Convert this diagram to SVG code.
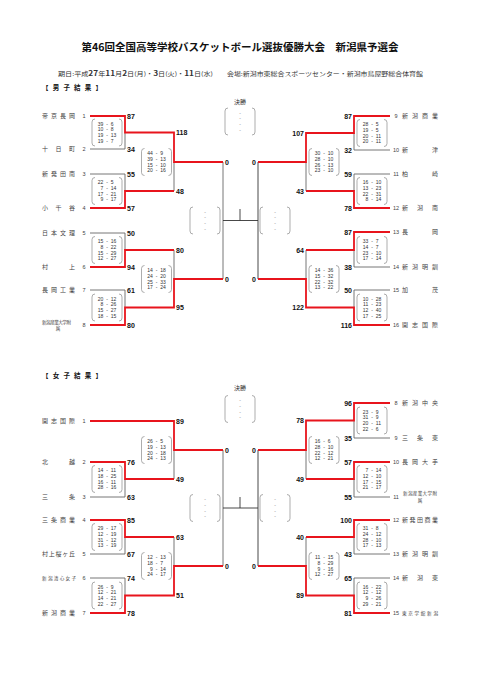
<svg xmlns="http://www.w3.org/2000/svg" xmlns:xlink="http://www.w3.org/1999/xlink" width="481" height="680" viewBox="0 0 481 680">
<style>
.j{font-family:"Noto Sans CJK JP","Liberation Sans",sans-serif;fill:#333}
.ttl{font-size:10.5px;font-weight:bold;fill:#111}
.sub{font-size:6px}
.b7{font-weight:bold;font-size:7px}
.hd{font-size:6.5px;font-weight:bold;fill:#111}
.nm{font-size:6px;fill:#444}
.nms{font-size:4.6px;fill:#444}
.no{font-family:"Liberation Sans",Arial,sans-serif;font-size:5.5px;fill:#444;text-anchor:middle}
.sc{font-family:"Liberation Sans",Arial,sans-serif;font-size:7px;font-weight:bold;fill:#111}
.r{text-anchor:end}
.m{text-anchor:middle}
.bx{font-family:"Liberation Sans",Arial,sans-serif;font-size:5px;fill:#333}
.bx .e{text-anchor:end}
.bk{fill:none;stroke:#8a8a8a;stroke-width:0.7}
.em{font-family:"Liberation Sans",Arial,sans-serif;font-size:5px;fill:#888;text-anchor:middle}
.l{fill:none;stroke:#666;stroke-width:0.9}
.k{fill:none;stroke:#333;stroke-width:0.9}
.w{fill:none;stroke:#e8141c;stroke-width:1.8}
</style>
<defs>
<path id="bk" class="bk" d="M3,0Q0,0 0,3V24Q0,27 3,27M27,0Q30,0 30,3V24Q30,27 27,27"/>
<g id="eb"><use xlink:href="#bk" href="#bk"/><text class="em" x="15" y="6.5">-</text><text class="em" x="15" y="12.3">-</text><text class="em" x="15" y="18.1">-</text><text class="em" x="15" y="23.9">-</text></g>
</defs>
<rect width="481" height="680" fill="#fff"/>

<g id="header">
<text class="j ttl" x="240" y="51" text-anchor="middle">第46回全国高等学校バスケットボール選抜優勝大会　新潟県予選会</text>
<text class="j sub" x="58" y="75.5" textLength="155" lengthAdjust="spacingAndGlyphs">期日:平成<tspan class="b7">27</tspan>年<tspan class="b7">11</tspan>月<tspan class="b7">2</tspan>日(月)・<tspan class="b7">3</tspan>日(火)・<tspan class="b7">11</tspan>日(水)</text>
<text class="j sub" x="227" y="75.5" textLength="196" lengthAdjust="spacingAndGlyphs">会場:新潟市東総合スポーツセンター・新潟市鳥屋野総合体育館</text>
<text class="j hd" x="42" y="89.5" textLength="60" lengthAdjust="spacing">【男子結果】</text>
<text class="j sub m" x="240" y="104">決勝</text>
<text class="j hd" x="42" y="377.5" textLength="60" lengthAdjust="spacing">【女子結果】</text>
<text class="j sub m" x="240" y="390">決勝</text>
</g>

<g id="connectors">
<path class="l" d="M90,149H125V132.5M90,174H125V191M174,191V162M90,233H125V250M90,290H125V307.5M174,250V279M223,162V279"/>
<path class="l" d="M390,150H354V133M390,174H354V191M306,191V162M390,267H354V250M390,290H354V307.5M306,250V279"/>
<path class="k" d="M223,220.5H258M240,220.5V209M258,162V279"/>
<path class="w" d="M90,116H125V132.5H174V162H223M90,208H125V191H174M90,267H125V250H174M90,325H125V307.5H174V279H223"/>
<path class="w" d="M390,116H354V133H306V162H258M390,208H354V191H306M390,232H354V250H306M390,325H354V307.5H306V279H258"/>
<path class="l" d="M90,497H125V479M174,479V450M90,554H125V537M174,537V566M90,578H125V595.5M223,450V566"/>
<path class="l" d="M390,438H354V420.5M390,497H354V479M306,479V450M390,554H354V537M390,578H354V595.5M306,537V566"/>
<path class="k" d="M223,508H258M240,508V497M258,450V566"/>
<path class="w" d="M90,421H174V450H223M90,462H125V479H174M90,520H125V537H174M90,613H125V595.5H174V566H223"/>
<path class="w" d="M390,403H354V420.5H306V450H258M390,462H354V479H306M390,520H354V537H306M390,613H354V595.5H306V566H258"/>
</g>

<!-- Male teams left -->
<g id="m-t1"><text class="j nm" x="42" y="118" textLength="33" lengthAdjust="spacing">帝京長岡</text><text class="no" x="84" y="118">1</text><text class="sc" x="127" y="118.5">87</text></g>
<g id="m-t2"><text class="j nm" x="42" y="151" textLength="33" lengthAdjust="spacing">十日町</text><text class="no" x="84" y="151">2</text><text class="sc" x="127" y="151.5">34</text></g>
<g id="m-t3"><text class="j nm" x="42" y="176" textLength="33" lengthAdjust="spacing">新発田南</text><text class="no" x="84" y="176">3</text><text class="sc" x="127" y="176.5">55</text></g>
<g id="m-t4"><text class="j nm" x="42" y="210" textLength="33" lengthAdjust="spacing">小千谷</text><text class="no" x="84" y="210">4</text><text class="sc" x="127" y="210.5">57</text></g>
<g id="m-t5"><text class="j nm" x="42" y="235" textLength="33" lengthAdjust="spacing">日本文理</text><text class="no" x="84" y="235">5</text><text class="sc" x="127" y="235.5">50</text></g>
<g id="m-t6"><text class="j nm" x="42" y="269" textLength="33" lengthAdjust="spacing">村上</text><text class="no" x="84" y="269">6</text><text class="sc" x="127" y="269.5">94</text></g>
<g id="m-t7"><text class="j nm" x="42" y="292" textLength="33" lengthAdjust="spacing">長岡工業</text><text class="no" x="84" y="292">7</text><text class="sc" x="127" y="292.5">61</text></g>
<g id="m-t8"><text class="j nms" x="42" y="323.5" textLength="29" lengthAdjust="spacing">新潟産業大学附</text><text class="j nms m" x="58" y="330">属</text><text class="no" x="84" y="327">8</text><text class="sc" x="127" y="327.5">80</text></g>
<!-- Male teams right -->
<g id="m-t9"><text class="no" x="396" y="118">9</text><text class="j nm" x="402" y="118" textLength="36" lengthAdjust="spacing">新潟商業</text><text class="sc r" x="352" y="118.5">87</text></g>
<g id="m-t10"><text class="no" x="396" y="152">10</text><text class="j nm" x="402" y="152" textLength="36" lengthAdjust="spacing">新津</text><text class="sc r" x="352" y="152.5">32</text></g>
<g id="m-t11"><text class="no" x="396" y="176">11</text><text class="j nm" x="402" y="176" textLength="36" lengthAdjust="spacing">柏崎</text><text class="sc r" x="352" y="176.5">59</text></g>
<g id="m-t12"><text class="no" x="396" y="210">12</text><text class="j nm" x="402" y="210" textLength="36" lengthAdjust="spacing">新潟南</text><text class="sc r" x="352" y="210.5">78</text></g>
<g id="m-t13"><text class="no" x="396" y="234">13</text><text class="j nm" x="402" y="234" textLength="36" lengthAdjust="spacing">長岡</text><text class="sc r" x="352" y="234.5">87</text></g>
<g id="m-t14"><text class="no" x="396" y="269">14</text><text class="j nm" x="402" y="269" textLength="36" lengthAdjust="spacing">新潟明訓</text><text class="sc r" x="352" y="269.5">38</text></g>
<g id="m-t15"><text class="no" x="396" y="292">15</text><text class="j nm" x="402" y="292" textLength="36" lengthAdjust="spacing">加茂</text><text class="sc r" x="352" y="292.5">50</text></g>
<g id="m-t16"><text class="no" x="396" y="327">16</text><text class="j nm" x="402" y="327" textLength="36" lengthAdjust="spacing">開志国際</text><text class="sc r" x="352" y="327.5">116</text></g>
<!-- Male round scores -->
<g id="m-r2"><text class="sc" x="176" y="135">118</text><text class="sc" x="176" y="193.5">48</text><text class="sc" x="176" y="252.5">80</text><text class="sc" x="176" y="310">95</text>
<text class="sc" x="225" y="164.5">0</text><text class="sc" x="225" y="281.5">0</text>
<text class="sc r" x="304" y="135.5">107</text><text class="sc r" x="304" y="193.5">43</text><text class="sc r" x="304" y="252.5">64</text><text class="sc r" x="304" y="310">122</text>
<text class="sc r" x="256" y="164.5">0</text><text class="sc r" x="256" y="281.5">0</text></g>

<!-- Male score boxes -->
<g id="mb1" class="bx" transform="translate(92,119)"><use xlink:href="#bk" href="#bk"/><text y="6.5"><tspan class="e" x="11.2">39</tspan><tspan x="14.2">-</tspan><tspan x="18.8">6</tspan></text><text y="12.3"><tspan class="e" x="11.2">10</tspan><tspan x="14.2">-</tspan><tspan x="18.8">8</tspan></text><text y="18.1"><tspan class="e" x="11.2">19</tspan><tspan x="14.2">-</tspan><tspan x="18.8">13</tspan></text><text y="23.9"><tspan class="e" x="11.2">19</tspan><tspan x="14.2">-</tspan><tspan x="18.8">7</tspan></text></g>
<g id="mb2" class="bx" transform="translate(92,177.5)"><use xlink:href="#bk" href="#bk"/><text y="6.5"><tspan class="e" x="11.2">22</tspan><tspan x="14.2">-</tspan><tspan x="18.8">5</tspan></text><text y="12.3"><tspan class="e" x="11.2">7</tspan><tspan x="14.2">-</tspan><tspan x="18.8">14</tspan></text><text y="18.1"><tspan class="e" x="11.2">17</tspan><tspan x="14.2">-</tspan><tspan x="18.8">21</tspan></text><text y="23.9"><tspan class="e" x="11.2">9</tspan><tspan x="14.2">-</tspan><tspan x="18.8">17</tspan></text></g>
<g id="mb3" class="bx" transform="translate(92,236.5)"><use xlink:href="#bk" href="#bk"/><text y="6.5"><tspan class="e" x="11.2">15</tspan><tspan x="14.2">-</tspan><tspan x="18.8">16</tspan></text><text y="12.3"><tspan class="e" x="11.2">8</tspan><tspan x="14.2">-</tspan><tspan x="18.8">22</tspan></text><text y="18.1"><tspan class="e" x="11.2">15</tspan><tspan x="14.2">-</tspan><tspan x="18.8">29</tspan></text><text y="23.9"><tspan class="e" x="11.2">12</tspan><tspan x="14.2">-</tspan><tspan x="18.8">27</tspan></text></g>
<g id="mb4" class="bx" transform="translate(92,294)"><use xlink:href="#bk" href="#bk"/><text y="6.5"><tspan class="e" x="11.2">20</tspan><tspan x="14.2">-</tspan><tspan x="18.8">12</tspan></text><text y="12.3"><tspan class="e" x="11.2">8</tspan><tspan x="14.2">-</tspan><tspan x="18.8">26</tspan></text><text y="18.1"><tspan class="e" x="11.2">15</tspan><tspan x="14.2">-</tspan><tspan x="18.8">27</tspan></text><text y="23.9"><tspan class="e" x="11.2">18</tspan><tspan x="14.2">-</tspan><tspan x="18.8">15</tspan></text></g>
<g id="mb5" class="bx" transform="translate(141.5,148.5)"><use xlink:href="#bk" href="#bk"/><text y="6.5"><tspan class="e" x="11.2">44</tspan><tspan x="14.2">-</tspan><tspan x="18.8">9</tspan></text><text y="12.3"><tspan class="e" x="11.2">39</tspan><tspan x="14.2">-</tspan><tspan x="18.8">13</tspan></text><text y="18.1"><tspan class="e" x="11.2">15</tspan><tspan x="14.2">-</tspan><tspan x="18.8">10</tspan></text><text y="23.9"><tspan class="e" x="11.2">20</tspan><tspan x="14.2">-</tspan><tspan x="18.8">16</tspan></text></g>
<g id="mb6" class="bx" transform="translate(141.5,265.5)"><use xlink:href="#bk" href="#bk"/><text y="6.5"><tspan class="e" x="11.2">14</tspan><tspan x="14.2">-</tspan><tspan x="18.8">18</tspan></text><text y="12.3"><tspan class="e" x="11.2">24</tspan><tspan x="14.2">-</tspan><tspan x="18.8">20</tspan></text><text y="18.1"><tspan class="e" x="11.2">25</tspan><tspan x="14.2">-</tspan><tspan x="18.8">33</tspan></text><text y="23.9"><tspan class="e" x="11.2">17</tspan><tspan x="14.2">-</tspan><tspan x="18.8">24</tspan></text></g>
<g id="mb7" class="bx" transform="translate(357,119.5)"><use xlink:href="#bk" href="#bk"/><text y="6.5"><tspan class="e" x="11.2">28</tspan><tspan x="14.2">-</tspan><tspan x="18.8">5</tspan></text><text y="12.3"><tspan class="e" x="11.2">19</tspan><tspan x="14.2">-</tspan><tspan x="18.8">5</tspan></text><text y="18.1"><tspan class="e" x="11.2">20</tspan><tspan x="14.2">-</tspan><tspan x="18.8">11</tspan></text><text y="23.9"><tspan class="e" x="11.2">20</tspan><tspan x="14.2">-</tspan><tspan x="18.8">11</tspan></text></g>
<g id="mb8" class="bx" transform="translate(357,177.5)"><use xlink:href="#bk" href="#bk"/><text y="6.5"><tspan class="e" x="11.2">16</tspan><tspan x="14.2">-</tspan><tspan x="18.8">10</tspan></text><text y="12.3"><tspan class="e" x="11.2">13</tspan><tspan x="14.2">-</tspan><tspan x="18.8">23</tspan></text><text y="18.1"><tspan class="e" x="11.2">22</tspan><tspan x="14.2">-</tspan><tspan x="18.8">31</tspan></text><text y="23.9"><tspan class="e" x="11.2">8</tspan><tspan x="14.2">-</tspan><tspan x="18.8">14</tspan></text></g>
<g id="mb9" class="bx" transform="translate(357,236.5)"><use xlink:href="#bk" href="#bk"/><text y="6.5"><tspan class="e" x="11.2">33</tspan><tspan x="14.2">-</tspan><tspan x="18.8">7</tspan></text><text y="12.3"><tspan class="e" x="11.2">14</tspan><tspan x="14.2">-</tspan><tspan x="18.8">7</tspan></text><text y="18.1"><tspan class="e" x="11.2">23</tspan><tspan x="14.2">-</tspan><tspan x="18.8">10</tspan></text><text y="23.9"><tspan class="e" x="11.2">17</tspan><tspan x="14.2">-</tspan><tspan x="18.8">14</tspan></text></g>
<g id="mb10" class="bx" transform="translate(357,294)"><use xlink:href="#bk" href="#bk"/><text y="6.5"><tspan class="e" x="11.2">10</tspan><tspan x="14.2">-</tspan><tspan x="18.8">28</tspan></text><text y="12.3"><tspan class="e" x="11.2">11</tspan><tspan x="14.2">-</tspan><tspan x="18.8">23</tspan></text><text y="18.1"><tspan class="e" x="11.2">12</tspan><tspan x="14.2">-</tspan><tspan x="18.8">40</tspan></text><text y="23.9"><tspan class="e" x="11.2">17</tspan><tspan x="14.2">-</tspan><tspan x="18.8">25</tspan></text></g>
<g id="mb11" class="bx" transform="translate(309,148.5)"><use xlink:href="#bk" href="#bk"/><text y="6.5"><tspan class="e" x="11.2">30</tspan><tspan x="14.2">-</tspan><tspan x="18.8">10</tspan></text><text y="12.3"><tspan class="e" x="11.2">28</tspan><tspan x="14.2">-</tspan><tspan x="18.8">10</tspan></text><text y="18.1"><tspan class="e" x="11.2">26</tspan><tspan x="14.2">-</tspan><tspan x="18.8">13</tspan></text><text y="23.9"><tspan class="e" x="11.2">23</tspan><tspan x="14.2">-</tspan><tspan x="18.8">10</tspan></text></g>
<g id="mb12" class="bx" transform="translate(309,265.5)"><use xlink:href="#bk" href="#bk"/><text y="6.5"><tspan class="e" x="11.2">14</tspan><tspan x="14.2">-</tspan><tspan x="18.8">36</tspan></text><text y="12.3"><tspan class="e" x="11.2">15</tspan><tspan x="14.2">-</tspan><tspan x="18.8">32</tspan></text><text y="18.1"><tspan class="e" x="11.2">22</tspan><tspan x="14.2">-</tspan><tspan x="18.8">32</tspan></text><text y="23.9"><tspan class="e" x="11.2">13</tspan><tspan x="14.2">-</tspan><tspan x="18.8">22</tspan></text></g>
<g id="m-semi-l"><use xlink:href="#eb" href="#eb" x="190" y="207"/></g>
<g id="m-semi-r"><use xlink:href="#eb" href="#eb" x="260" y="207"/></g>
<g id="m-final"><use xlink:href="#eb" href="#eb" x="225" y="108"/></g>

<!-- Female teams left -->
<g id="f-t1"><text class="j nm" x="42" y="423" textLength="33" lengthAdjust="spacing">開志国際</text><text class="no" x="84" y="423">1</text><text class="sc" x="176" y="423.5">89</text></g>
<g id="f-t2"><text class="j nm" x="42" y="464" textLength="33" lengthAdjust="spacing">北越</text><text class="no" x="84" y="464">2</text><text class="sc" x="127" y="464.5">76</text></g>
<g id="f-t3"><text class="j nm" x="42" y="499" textLength="33" lengthAdjust="spacing">三条</text><text class="no" x="84" y="499">3</text><text class="sc" x="127" y="499.5">63</text></g>
<g id="f-t4"><text class="j nm" x="42" y="522" textLength="33" lengthAdjust="spacing">三条商業</text><text class="no" x="84" y="522">4</text><text class="sc" x="127" y="522.5">85</text></g>
<g id="f-t5"><text class="j nm" x="42" y="556" textLength="33" lengthAdjust="spacing">村上桜ヶ丘</text><text class="no" x="84" y="556">5</text><text class="sc" x="127" y="556.5">67</text></g>
<g id="f-t6"><text class="j nms" x="42" y="580" textLength="34" lengthAdjust="spacing">新潟清心女子</text><text class="no" x="84" y="580">6</text><text class="sc" x="127" y="580.5">74</text></g>
<g id="f-t7"><text class="j nm" x="42" y="615" textLength="33" lengthAdjust="spacing">新潟商業</text><text class="no" x="84" y="615">7</text><text class="sc" x="127" y="615.5">78</text></g>
<!-- Female teams right -->
<g id="f-t8"><text class="no" x="396" y="405">8</text><text class="j nm" x="402" y="405" textLength="36" lengthAdjust="spacing">新潟中央</text><text class="sc r" x="352" y="405.5">96</text></g>
<g id="f-t9"><text class="no" x="396" y="440">9</text><text class="j nm" x="402" y="440" textLength="36" lengthAdjust="spacing">三条東</text><text class="sc r" x="352" y="440.5">35</text></g>
<g id="f-t10"><text class="no" x="396" y="464">10</text><text class="j nm" x="402" y="464" textLength="36" lengthAdjust="spacing">長岡大手</text><text class="sc r" x="352" y="464.5">57</text></g>
<g id="f-t11"><text class="no" x="396" y="499">11</text><text class="j nms" x="403" y="495" textLength="34" lengthAdjust="spacing">新潟産業大学附</text><text class="j nms m" x="420" y="501.5">属</text><text class="sc r" x="352" y="499.5">55</text></g>
<g id="f-t12"><text class="no" x="396" y="522">12</text><text class="j nm" x="402" y="522" textLength="36" lengthAdjust="spacing">新発田商業</text><text class="sc r" x="352" y="522.5">100</text></g>
<g id="f-t13"><text class="no" x="396" y="556">13</text><text class="j nm" x="402" y="556" textLength="36" lengthAdjust="spacing">新潟明訓</text><text class="sc r" x="352" y="556.5">43</text></g>
<g id="f-t14"><text class="no" x="396" y="580">14</text><text class="j nm" x="402" y="580" textLength="36" lengthAdjust="spacing">新潟東</text><text class="sc r" x="352" y="580.5">65</text></g>
<g id="f-t15"><text class="no" x="396" y="615">15</text><text class="j nms" x="402" y="614.5" textLength="36" lengthAdjust="spacing">東京学館新潟</text><text class="sc r" x="352" y="615.5">81</text></g>
<!-- Female round scores -->
<g id="f-r2"><text class="sc" x="176" y="481.5">49</text><text class="sc" x="176" y="539.5">63</text><text class="sc" x="176" y="598">51</text>
<text class="sc" x="225" y="452.5">0</text><text class="sc" x="225" y="568.5">0</text>
<text class="sc r" x="304" y="423">78</text><text class="sc r" x="304" y="481.5">49</text><text class="sc r" x="304" y="539.5">40</text><text class="sc r" x="304" y="598">89</text>
<text class="sc r" x="256" y="452.5">0</text><text class="sc r" x="256" y="568.5">0</text></g>

<!-- Female score boxes -->
<g id="fb1" class="bx" transform="translate(92,465.5)"><use xlink:href="#bk" href="#bk"/><text y="6.5"><tspan class="e" x="11.2">14</tspan><tspan x="14.2">-</tspan><tspan x="18.8">11</tspan></text><text y="12.3"><tspan class="e" x="11.2">18</tspan><tspan x="14.2">-</tspan><tspan x="18.8">25</tspan></text><text y="18.1"><tspan class="e" x="11.2">16</tspan><tspan x="14.2">-</tspan><tspan x="18.8">11</tspan></text><text y="23.9"><tspan class="e" x="11.2">28</tspan><tspan x="14.2">-</tspan><tspan x="18.8">16</tspan></text></g>
<g id="fb2" class="bx" transform="translate(92,523.5)"><use xlink:href="#bk" href="#bk"/><text y="6.5"><tspan class="e" x="11.2">29</tspan><tspan x="14.2">-</tspan><tspan x="18.8">17</tspan></text><text y="12.3"><tspan class="e" x="11.2">12</tspan><tspan x="14.2">-</tspan><tspan x="18.8">19</tspan></text><text y="18.1"><tspan class="e" x="11.2">31</tspan><tspan x="14.2">-</tspan><tspan x="18.8">12</tspan></text><text y="23.9"><tspan class="e" x="11.2">13</tspan><tspan x="14.2">-</tspan><tspan x="18.8">19</tspan></text></g>
<g id="fb3" class="bx" transform="translate(92,582)"><use xlink:href="#bk" href="#bk"/><text y="6.5"><tspan class="e" x="11.2">26</tspan><tspan x="14.2">-</tspan><tspan x="18.8">9</tspan></text><text y="12.3"><tspan class="e" x="11.2">12</tspan><tspan x="14.2">-</tspan><tspan x="18.8">21</tspan></text><text y="18.1"><tspan class="e" x="11.2">14</tspan><tspan x="14.2">-</tspan><tspan x="18.8">21</tspan></text><text y="23.9"><tspan class="e" x="11.2">22</tspan><tspan x="14.2">-</tspan><tspan x="18.8">27</tspan></text></g>
<g id="fb4" class="bx" transform="translate(141.5,436.5)"><use xlink:href="#bk" href="#bk"/><text y="6.5"><tspan class="e" x="11.2">26</tspan><tspan x="14.2">-</tspan><tspan x="18.8">5</tspan></text><text y="12.3"><tspan class="e" x="11.2">19</tspan><tspan x="14.2">-</tspan><tspan x="18.8">13</tspan></text><text y="18.1"><tspan class="e" x="11.2">20</tspan><tspan x="14.2">-</tspan><tspan x="18.8">18</tspan></text><text y="23.9"><tspan class="e" x="11.2">24</tspan><tspan x="14.2">-</tspan><tspan x="18.8">13</tspan></text></g>
<g id="fb5" class="bx" transform="translate(141.5,552.5)"><use xlink:href="#bk" href="#bk"/><text y="6.5"><tspan class="e" x="11.2">12</tspan><tspan x="14.2">-</tspan><tspan x="18.8">13</tspan></text><text y="12.3"><tspan class="e" x="11.2">18</tspan><tspan x="14.2">-</tspan><tspan x="18.8">7</tspan></text><text y="18.1"><tspan class="e" x="11.2">9</tspan><tspan x="14.2">-</tspan><tspan x="18.8">14</tspan></text><text y="23.9"><tspan class="e" x="11.2">24</tspan><tspan x="14.2">-</tspan><tspan x="18.8">17</tspan></text></g>
<g id="fb6" class="bx" transform="translate(357,407)"><use xlink:href="#bk" href="#bk"/><text y="6.5"><tspan class="e" x="11.2">23</tspan><tspan x="14.2">-</tspan><tspan x="18.8">9</tspan></text><text y="12.3"><tspan class="e" x="11.2">31</tspan><tspan x="14.2">-</tspan><tspan x="18.8">9</tspan></text><text y="18.1"><tspan class="e" x="11.2">20</tspan><tspan x="14.2">-</tspan><tspan x="18.8">11</tspan></text><text y="23.9"><tspan class="e" x="11.2">22</tspan><tspan x="14.2">-</tspan><tspan x="18.8">6</tspan></text></g>
<g id="fb7" class="bx" transform="translate(357,465.5)"><use xlink:href="#bk" href="#bk"/><text y="6.5"><tspan class="e" x="11.2">7</tspan><tspan x="14.2">-</tspan><tspan x="18.8">14</tspan></text><text y="12.3"><tspan class="e" x="11.2">12</tspan><tspan x="14.2">-</tspan><tspan x="18.8">10</tspan></text><text y="18.1"><tspan class="e" x="11.2">17</tspan><tspan x="14.2">-</tspan><tspan x="18.8">15</tspan></text><text y="23.9"><tspan class="e" x="11.2">21</tspan><tspan x="14.2">-</tspan><tspan x="18.8">17</tspan></text></g>
<g id="fb8" class="bx" transform="translate(357,523.5)"><use xlink:href="#bk" href="#bk"/><text y="6.5"><tspan class="e" x="11.2">31</tspan><tspan x="14.2">-</tspan><tspan x="18.8">8</tspan></text><text y="12.3"><tspan class="e" x="11.2">24</tspan><tspan x="14.2">-</tspan><tspan x="18.8">12</tspan></text><text y="18.1"><tspan class="e" x="11.2">28</tspan><tspan x="14.2">-</tspan><tspan x="18.8">10</tspan></text><text y="23.9"><tspan class="e" x="11.2">17</tspan><tspan x="14.2">-</tspan><tspan x="18.8">13</tspan></text></g>
<g id="fb9" class="bx" transform="translate(357,582)"><use xlink:href="#bk" href="#bk"/><text y="6.5"><tspan class="e" x="11.2">16</tspan><tspan x="14.2">-</tspan><tspan x="18.8">22</tspan></text><text y="12.3"><tspan class="e" x="11.2">12</tspan><tspan x="14.2">-</tspan><tspan x="18.8">12</tspan></text><text y="18.1"><tspan class="e" x="11.2">9</tspan><tspan x="14.2">-</tspan><tspan x="18.8">26</tspan></text><text y="23.9"><tspan class="e" x="11.2">29</tspan><tspan x="14.2">-</tspan><tspan x="18.8">21</tspan></text></g>
<g id="fb10" class="bx" transform="translate(309,436.5)"><use xlink:href="#bk" href="#bk"/><text y="6.5"><tspan class="e" x="11.2">16</tspan><tspan x="14.2">-</tspan><tspan x="18.8">6</tspan></text><text y="12.3"><tspan class="e" x="11.2">28</tspan><tspan x="14.2">-</tspan><tspan x="18.8">10</tspan></text><text y="18.1"><tspan class="e" x="11.2">22</tspan><tspan x="14.2">-</tspan><tspan x="18.8">12</tspan></text><text y="23.9"><tspan class="e" x="11.2">12</tspan><tspan x="14.2">-</tspan><tspan x="18.8">21</tspan></text></g>
<g id="fb11" class="bx" transform="translate(309,552.5)"><use xlink:href="#bk" href="#bk"/><text y="6.5"><tspan class="e" x="11.2">11</tspan><tspan x="14.2">-</tspan><tspan x="18.8">15</tspan></text><text y="12.3"><tspan class="e" x="11.2">8</tspan><tspan x="14.2">-</tspan><tspan x="18.8">29</tspan></text><text y="18.1"><tspan class="e" x="11.2">9</tspan><tspan x="14.2">-</tspan><tspan x="18.8">16</tspan></text><text y="23.9"><tspan class="e" x="11.2">12</tspan><tspan x="14.2">-</tspan><tspan x="18.8">27</tspan></text></g>
<g id="f-semi-l"><use xlink:href="#eb" href="#eb" x="190" y="494.5"/></g>
<g id="f-semi-r"><use xlink:href="#eb" href="#eb" x="260" y="494.5"/></g>
<g id="f-final"><use xlink:href="#eb" href="#eb" x="225" y="395.5"/></g>
</svg>
